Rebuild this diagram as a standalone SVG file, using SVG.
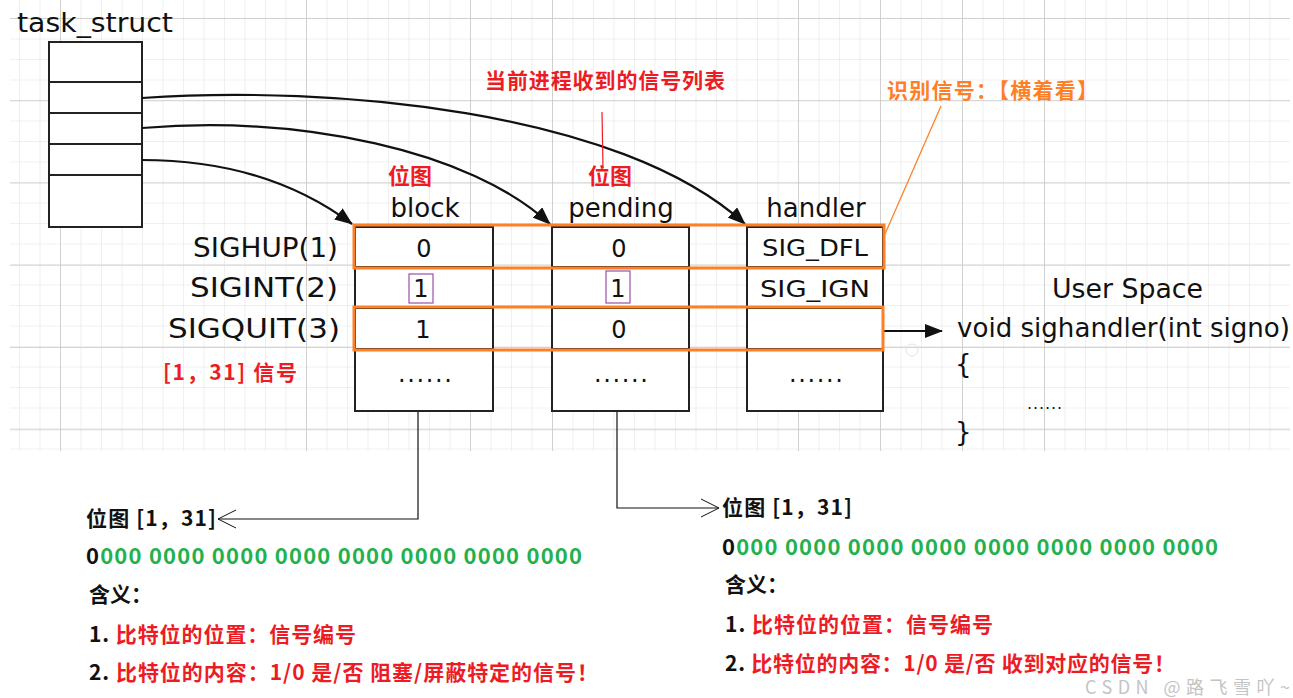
<svg xmlns="http://www.w3.org/2000/svg" width="1293" height="698" viewBox="0 0 1293 698">
<style>
.hand{font-family:"DejaVu Sans","Liberation Sans",sans-serif;fill:#111;}
.cjk{font-family:"Noto Sans CJK SC","Noto Sans",sans-serif;font-weight:bold;}
.red{fill:#ed1c24;}
.org{fill:#ff7f27;}
.grn{fill:#22b14c;}
.blk{fill:#111;}
.cell{fill:#fff;stroke:#222;stroke-width:2;}
.hl{fill:none;stroke:#ff7f27;stroke-width:3;}
.conn{fill:none;stroke:#111;stroke-width:2.2;}
.thin{fill:none;stroke:#111;stroke-width:1.2;}
</style>
<defs>
<pattern id="minor" x="60" y="18" width="20.5" height="20.5" patternUnits="userSpaceOnUse">
<path d="M0,0 V20.5 M0,0 H20.5" fill="none" stroke="#ebebeb" stroke-width="1.5"/>
</pattern>
<pattern id="major" x="60" y="18" width="82" height="82.25" patternUnits="userSpaceOnUse">
<path d="M0,0 V82.25 M0,0 H82" fill="none" stroke="#c6c6c6" stroke-width="1.5"/>
</pattern>
<marker id="ah" markerWidth="18" markerHeight="14" refX="17" refY="7" orient="auto" markerUnits="userSpaceOnUse">
<path d="M0,0 L18,7 L0,14 Z" fill="#111"/>
</marker>
<marker id="oh" markerWidth="20" markerHeight="24" refX="19" refY="12" orient="auto" markerUnits="userSpaceOnUse">
<path d="M1,3 L19,12 L1,21" fill="none" stroke="#111" stroke-width="1"/>
</marker>
</defs>
<rect width="1293" height="698" fill="#fff"/>
<g id="grid">
<rect x="10" y="0" width="1280" height="451" fill="url(#minor)"/>
<rect x="10" y="0" width="1280" height="451" fill="url(#major)"/>
</g>

<g id="task_struct">
<text class="hand" x="17" y="32" font-size="26" textLength="156" lengthAdjust="spacingAndGlyphs">task_struct</text>
<rect class="cell" x="49" y="42" width="93" height="185"/>
<path d="M49,82 H142 M49,113 H142 M49,144 H142 M49,175 H142" stroke="#222" stroke-width="2"/>
</g>

<g id="connectors">
<path class="conn" d="M142,98 C330,85 620,110 745,224" marker-end="url(#ah)"/>
<path class="conn" d="M142,128 C300,115 470,150 550,224" marker-end="url(#ah)"/>
<path class="conn" d="M142,160 C230,160 300,185 352,224" marker-end="url(#ah)"/>
<path class="conn" d="M842,331 H942" marker-end="url(#ah)"/>
<path class="thin" d="M418,411 V519 H218" marker-end="url(#oh)"/>
<path class="thin" d="M617,411 V508 H719" marker-end="url(#oh)"/>
<path d="M602,112 L603,168" stroke="#ed1c24" stroke-width="1.2" fill="none"/>
<path d="M941,106 L885,234" stroke="#ff7f27" stroke-width="1.2" fill="none"/>
</g>

<g id="block">
<text class="cjk red" x="388" y="184" font-size="22">位图</text>
<text class="hand" x="425" y="217" font-size="26" text-anchor="middle">block</text>
<rect class="cell" x="355" y="227" width="138" height="184"/>
<path d="M355,267 H493 M355,308 H493 M355,349 H493" stroke="#222" stroke-width="2"/>
<text class="hand" x="424" y="257" font-size="24" text-anchor="middle">0</text>
<text class="hand" x="421" y="297" font-size="24" text-anchor="middle">1</text>
<text class="hand" x="423" y="338" font-size="24" text-anchor="middle">1</text>
<text class="hand" x="398" y="382" font-size="24" textLength="54" lengthAdjust="spacing">......</text>
<rect x="409" y="274" width="24" height="29" fill="none" stroke="#9b4fa8" stroke-width="1.2"/>
</g>

<g id="pending">
<text class="cjk red" x="588" y="184" font-size="22">位图</text>
<text class="hand" x="621" y="217" font-size="26" text-anchor="middle">pending</text>
<rect class="cell" x="552" y="227" width="137" height="184"/>
<path d="M552,267 H689 M552,308 H689 M552,349 H689" stroke="#222" stroke-width="2"/>
<text class="hand" x="619" y="257" font-size="24" text-anchor="middle">0</text>
<text class="hand" x="618" y="297" font-size="24" text-anchor="middle">1</text>
<text class="hand" x="619" y="338" font-size="24" text-anchor="middle">0</text>
<text class="hand" x="594" y="382" font-size="24" textLength="54" lengthAdjust="spacing">......</text>
<rect x="606" y="271" width="24" height="32" fill="none" stroke="#9b4fa8" stroke-width="1.2"/>
</g>

<g id="handler">
<text class="hand" x="816" y="217" font-size="26" text-anchor="middle">handler</text>
<rect class="cell" x="747" y="227" width="136" height="184"/>
<path d="M747,267 H883 M747,308 H883 M747,349 H883" stroke="#222" stroke-width="2"/>
<text class="hand" x="762" y="256" font-size="23" textLength="106" lengthAdjust="spacingAndGlyphs">SIG_DFL</text>
<text class="hand" x="760" y="297" font-size="23" textLength="110" lengthAdjust="spacingAndGlyphs">SIG_IGN</text>
<text class="hand" x="789" y="382" font-size="24" textLength="54" lengthAdjust="spacing">......</text>
</g>

<g id="highlights">
<rect class="hl" x="354" y="225" width="530" height="43"/>
<rect class="hl" x="354" y="307" width="529" height="43"/>
</g>

<g id="labels">
<text class="hand" x="338" y="257" font-size="26" text-anchor="end" textLength="145" lengthAdjust="spacingAndGlyphs">SIGHUP(1)</text>
<text class="hand" x="338" y="297" font-size="26" text-anchor="end" textLength="148" lengthAdjust="spacingAndGlyphs">SIGINT(2)</text>
<text class="hand" x="340" y="338" font-size="26" text-anchor="end" textLength="172" lengthAdjust="spacingAndGlyphs">SIGQUIT(3)</text>
<text class="cjk red" x="163" y="380" font-size="21" textLength="134" lengthAdjust="spacing">[1，31] 信号</text>
<text class="cjk red" x="485" y="88" font-size="21" textLength="240" lengthAdjust="spacing">当前进程收到的信号列表</text>
<text class="cjk org" x="887" y="98" font-size="21" textLength="211" lengthAdjust="spacing">识别信号：【横着看】</text>
</g>

<g id="user_space">
<circle cx="912" cy="350" r="6" fill="none" stroke="#e4e4e4" stroke-width="1"/>
<text class="hand" x="1052" y="298" font-size="26" textLength="151" lengthAdjust="spacingAndGlyphs">User Space</text>
<text class="hand" x="957" y="337" font-size="26" textLength="333" lengthAdjust="spacingAndGlyphs">void sighandler(int signo)</text>
<text class="hand" x="955" y="373" font-size="26">{</text>
<text class="hand" x="1027" y="409" font-size="16" textLength="35" lengthAdjust="spacing">......</text>
<text class="hand" x="955" y="441" font-size="26">}</text>
</g>

<g id="left_notes">
<text class="cjk blk" x="86" y="526" font-size="21" textLength="130" lengthAdjust="spacing">位图 [1，31]</text>
<text class="cjk" x="86" y="564" font-size="22" textLength="496" lengthAdjust="spacing"><tspan class="blk">0</tspan><tspan class="grn">000 0000 0000 0000 0000 0000 0000 0000</tspan></text>
<text class="cjk blk" x="89" y="602" font-size="21">含义：</text>
<text class="cjk" x="89" y="642" font-size="21" textLength="267" lengthAdjust="spacing"><tspan class="blk">1. </tspan><tspan class="red">比特位的位置：信号编号</tspan></text>
<text class="cjk" x="89" y="680" font-size="21" textLength="509" lengthAdjust="spacing"><tspan class="blk">2. </tspan><tspan class="red">比特位的内容：1/0  是/否 阻塞/屏蔽特定的信号！</tspan></text>
</g>

<g id="right_notes">
<text class="cjk blk" x="722" y="515" font-size="21" textLength="130" lengthAdjust="spacing">位图 [1，31]</text>
<text class="cjk" x="722" y="555" font-size="22" textLength="496" lengthAdjust="spacing"><tspan class="blk">0</tspan><tspan class="grn">000 0000 0000 0000 0000 0000 0000 0000</tspan></text>
<text class="cjk blk" x="725" y="592" font-size="21">含义：</text>
<text class="cjk" x="725" y="632" font-size="21" textLength="268" lengthAdjust="spacing"><tspan class="blk">1. </tspan><tspan class="red">比特位的位置：信号编号</tspan></text>
<text class="cjk" x="725" y="671" font-size="21" textLength="450" lengthAdjust="spacing"><tspan class="blk">2. </tspan><tspan class="red">比特位的内容：1/0 是/否 收到对应的信号！</tspan></text>
<text x="1085" y="694" font-size="18" fill="#c4c4c4" font-family="Noto Sans CJK SC, sans-serif" textLength="205" lengthAdjust="spacing">CSDN @路飞雪吖~</text>
</g>
</svg>
